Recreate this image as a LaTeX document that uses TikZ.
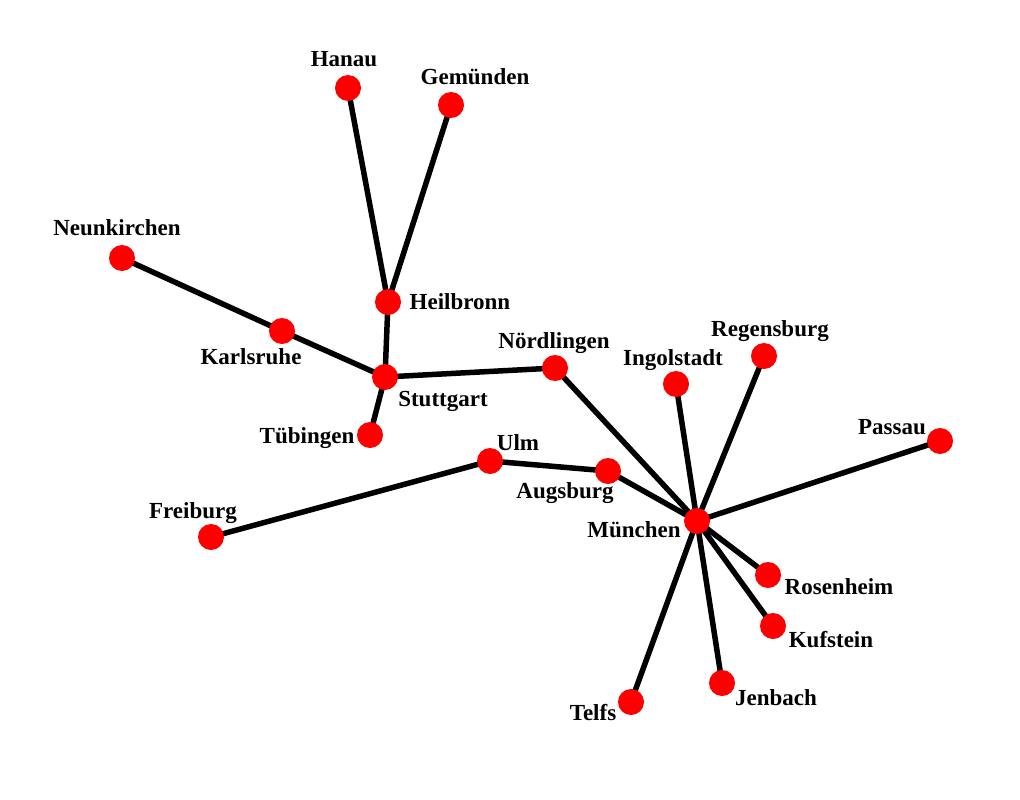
\documentclass[tikz,border=0pt]{standalone}
\usepackage{fontspec}
\setmainfont{Liberation Serif}
\begin{document}
\begin{tikzpicture}[x=1pt,y=-1pt,
  city/.style={circle,fill=red,inner sep=0pt,minimum size=26pt},
  lbl/.style={font=\fontsize{23}{26}\selectfont\bfseries,inner sep=0pt,text=black},
  edge/.style={line width=5.5pt,black}]
\useasboundingbox (0,0) rectangle (1020,800);
% cities
\coordinate (Hanau) at (348,88);
\coordinate (Gemunden) at (451,105);
\coordinate (Neunkirchen) at (122,258);
\coordinate (Heilbronn) at (388,302);
\coordinate (Karlsruhe) at (282,331);
\coordinate (Stuttgart) at (385,377);
\coordinate (Nordlingen) at (555,368);
\coordinate (Tubingen) at (370,435);
\coordinate (Ulm) at (490,461);
\coordinate (Augsburg) at (608,471);
\coordinate (Freiburg) at (211,537);
\coordinate (Munchen) at (697,521);
\coordinate (Ingolstadt) at (676,384);
\coordinate (Regensburg) at (764,356);
\coordinate (Passau) at (940,441);
\coordinate (Rosenheim) at (768,575);
\coordinate (Kufstein) at (773,626);
\coordinate (Jenbach) at (722,683);
\coordinate (Telfs) at (631,702);
% edges
\foreach \a/\b in {Hanau/Heilbronn,Gemunden/Heilbronn,Heilbronn/Stuttgart,
  Neunkirchen/Karlsruhe,Karlsruhe/Stuttgart,Stuttgart/Nordlingen,Stuttgart/Tubingen,
  Nordlingen/Munchen,Freiburg/Ulm,Ulm/Augsburg,Augsburg/Munchen,Munchen/Ingolstadt,
  Munchen/Regensburg,Munchen/Passau,Munchen/Rosenheim,Munchen/Kufstein,
  Munchen/Jenbach,Munchen/Telfs}
  \draw[edge] (\a) -- (\b);
% dots
\foreach \c in {Hanau,Gemunden,Neunkirchen,Heilbronn,Karlsruhe,Stuttgart,Nordlingen,
  Tubingen,Ulm,Augsburg,Freiburg,Munchen,Ingolstadt,Regensburg,Passau,Rosenheim,
  Kufstein,Jenbach,Telfs}
  \node[city] (n\c) at (\c) {};
% labels
\node[lbl] (lHanau) at (344,59) {Hanau};
\node[lbl] (lGemunden) at (475,77) {Gemünden};
\node[lbl] (lNeunkirchen) at (117,228) {Neunkirchen};
\node[lbl] (lHeilbronn) at (460,302) {Heilbronn};
\node[lbl] (lKarlsruhe) at (251,357) {Karlsruhe};
\node[lbl] (lStuttgart) at (443,401) {Stuttgart};
\node[lbl] (lNordlingen) at (554,343) {Nördlingen};
\node[lbl] (lTubingen) at (307,438) {Tübingen};
\node[lbl] (lUlm) at (518,443) {Ulm};
\node[lbl] (lAugsburg) at (565,493) {Augsburg};
\node[lbl] (lFreiburg) at (193,513) {Freiburg};
\node[lbl] (lMunchen) at (634,530) {München};
\node[lbl] (lIngolstadt) at (673,360) {Ingolstadt};
\node[lbl] (lRegensburg) at (770,331) {Regensburg};
\node[lbl] (lPassau) at (892,427) {Passau};
\node[lbl] (lRosenheim) at (839,587) {Rosenheim};
\node[lbl] (lKufstein) at (831,640) {Kufstein};
\node[lbl] (lJenbach) at (776,698) {Jenbach};
\node[lbl] (lTelfs) at (593,713) {Telfs};
\end{tikzpicture}
\end{document}
